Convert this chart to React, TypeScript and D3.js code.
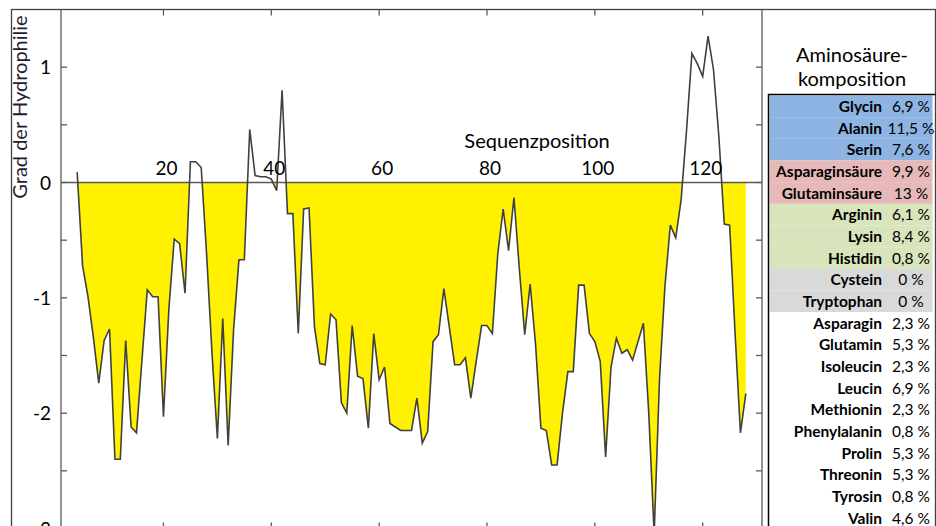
import { useEffect, useRef } from 'react';
import * as d3 from 'd3';

// Hydrophilicity profile (window 7), first value belongs to sequence position 4
const START_POS = 4;
const HYDROPHILIE = [
  0.09, -0.72, -0.99, -1.34, -1.74, -1.37, -1.27, -2.4, -2.4, -1.37,
  -2.12, -2.17, -1.55, -0.93, -0.99, -0.99, -2.03, -1.1, -0.49, -0.53,
  -0.96, 0.18, 0.18, 0.13, -0.62, -1.48, -2.22, -1.18, -2.28, -1.28,
  -0.67, -0.67, 0.46, 0.06, 0.05, 0.05, 0.03, -0.07, 0.8, -0.27,
  -0.27, -1.31, -0.23, -0.22, -1.25, -1.57, -1.58, -1.14, -1.19, -1.91,
  -2.0, -1.24, -1.68, -1.7, -2.13, -1.31, -1.71, -1.6, -2.09, -2.12,
  -2.15, -2.15, -2.15, -1.87, -2.26, -2.16, -1.38, -1.32, -0.92, -1.25,
  -1.58, -1.58, -1.52, -1.87, -1.55, -1.24, -1.24, -1.31, -0.62, -0.23,
  -0.59, -0.13, -0.75, -1.32, -0.88, -1.4, -2.13, -2.15, -2.45, -2.45,
  -2.0, -1.64, -1.64, -0.89, -0.89, -1.31, -1.38, -1.55, -2.38, -1.6,
  -1.35, -1.48, -1.45, -1.54, -1.38, -1.22, -2.0, -3.05, -1.7, -0.9,
  -0.37, -0.48, -0.15, 0.45, 1.12, 1.03, 0.92, 1.27, 0.98, 0.4,
  -0.36, -0.37, -1.3, -2.17, -1.83,
];

const X_TICKS = [20, 40, 60, 80, 100, 120];
const Y_LABELS = [1, 0, -1, -2, -3];
const Y_TICKS = [-2.5, -2, -1.5, -1, -0.5, 0, 0.5, 1];

const AMINO_NAMES = [
  'Glycin', 'Alanin', 'Serin', 'Asparaginsäure', 'Glutaminsäure',
  'Arginin', 'Lysin', 'Histidin', 'Cystein', 'Tryptophan',
  'Asparagin', 'Glutamin', 'Isoleucin', 'Leucin', 'Methionin',
  'Phenylalanin', 'Prolin', 'Threonin', 'Tyrosin', 'Valin',
];
const AMINO_PCT = [
  '6,9 %', '11,5 %', '7,6 %', '9,9 %', '13 %',
  '6,1 %', '8,4 %', '0,8 %', '0 %', '0 %',
  '2,3 %', '5,3 %', '2,3 %', '6,9 %', '2,3 %',
  '0,8 %', '5,3 %', '5,3 %', '0,8 %', '4,6 %',
];
const AMINO_GROUP = [
  'klein', 'klein', 'klein', 'sauer', 'sauer',
  'basisch', 'basisch', 'basisch', 'selten', 'selten',
  'sonst', 'sonst', 'sonst', 'sonst', 'sonst',
  'sonst', 'sonst', 'sonst', 'sonst', 'sonst',
];

const GROUP_FILL: Record<string, string> = {
  klein: '#8db4e2',
  sauer: '#e6b8b7',
  basisch: '#d8e4bc',
  selten: '#d9d9d9',
  sonst: '#ffffff',
};

const WIDTH = 936;
const HEIGHT = 526;
const PLOT = { left: 61, right: 762, top: 9.5, bottom: 528.5 };
const TABLE = { left: 768.5, right: 935.5, top: 94.5, row: 21.67 };

const FONT = 'Lato, "Open Sans", Arial, sans-serif';
const AXIS_COLOR = '#595959';
const LINE_COLOR = '#404040';
const FILL = '#fff100';

export default function App() {
  const svgRef = useRef<SVGSVGElement>(null);

  useEffect(() => {
    const svg = d3.select(svgRef.current);
    svg.selectAll('*').remove();
    svg.style('font-family', FONT);

    const data = HYDROPHILIE.map((v, i) => ({ pos: START_POS + i, v }));

    // Scales ---------------------------------------------------------------
    const x = d3.scaleLinear().domain([1, 131]).range([PLOT.left, PLOT.right]);
    const y = d3.scaleLinear().domain([-3, 1.5]).range([PLOT.bottom, PLOT.top]);

    const defs = svg.append('defs');
    defs
      .append('clipPath')
      .attr('id', 'plot-clip')
      .append('rect')
      .attr('x', PLOT.left)
      .attr('y', PLOT.top)
      .attr('width', PLOT.right - PLOT.left)
      .attr('height', PLOT.bottom - PLOT.top);
    // only the part below zero gets the yellow fill
    defs
      .append('clipPath')
      .attr('id', 'below-zero')
      .append('rect')
      .attr('x', PLOT.left)
      .attr('y', y(0))
      .attr('width', PLOT.right - PLOT.left)
      .attr('height', PLOT.bottom - y(0));

    svg.append('rect').attr('width', WIDTH).attr('height', HEIGHT).attr('fill', '#fff');

    // Area + line ----------------------------------------------------------
    const area = d3
      .area<{ pos: number; v: number }>()
      .x((d) => x(d.pos))
      .y0(y(0))
      .y1((d) => y(d.v));

    svg
      .append('path')
      .datum(data)
      .attr('clip-path', 'url(#below-zero)')
      .attr('fill', FILL)
      .attr('d', area);

    // zero line
    svg
      .append('line')
      .attr('x1', PLOT.left)
      .attr('x2', PLOT.right)
      .attr('y1', y(0))
      .attr('y2', y(0))
      .attr('stroke', AXIS_COLOR)
      .attr('stroke-width', 1.3);

    const line = d3
      .line<{ pos: number; v: number }>()
      .x((d) => x(d.pos))
      .y((d) => y(d.v));

    svg
      .append('path')
      .datum(data)
      .attr('clip-path', 'url(#plot-clip)')
      .attr('fill', 'none')
      .attr('stroke', LINE_COLOR)
      .attr('stroke-width', 1.6)
      .attr('d', line);

    // Frame + axes ---------------------------------------------------------
    svg
      .append('rect')
      .attr('x', 11.5)
      .attr('y', 9.5)
      .attr('width', 924)
      .attr('height', 540)
      .attr('fill', 'none')
      .attr('stroke', LINE_COLOR)
      .attr('stroke-width', 1.3);

    for (const px of [PLOT.left, PLOT.right]) {
      svg
        .append('line')
        .attr('x1', px)
        .attr('x2', px)
        .attr('y1', PLOT.top)
        .attr('y2', PLOT.bottom)
        .attr('stroke', AXIS_COLOR)
        .attr('stroke-width', 1.3);
    }

    // y ticks pointing inward on both sides
    const yTicks = svg.append('g').attr('stroke', AXIS_COLOR).attr('stroke-width', 1.3);
    yTicks
      .selectAll('line.l')
      .data(Y_TICKS)
      .join('line')
      .attr('class', 'l')
      .attr('x1', PLOT.left)
      .attr('x2', PLOT.left + 6)
      .attr('y1', (d) => y(d))
      .attr('y2', (d) => y(d));
    yTicks
      .selectAll('line.r')
      .data(Y_TICKS)
      .join('line')
      .attr('class', 'r')
      .attr('x1', PLOT.right)
      .attr('x2', PLOT.right - 6)
      .attr('y1', (d) => y(d))
      .attr('y2', (d) => y(d));

    // x ticks at top and bottom
    const xTicks = svg.append('g').attr('stroke', AXIS_COLOR).attr('stroke-width', 1.3);
    xTicks
      .selectAll('line.t')
      .data(X_TICKS)
      .join('line')
      .attr('class', 't')
      .attr('x1', (d) => x(d))
      .attr('x2', (d) => x(d))
      .attr('y1', PLOT.top)
      .attr('y2', PLOT.top + 6);
    xTicks
      .selectAll('line.b')
      .data(X_TICKS)
      .join('line')
      .attr('class', 'b')
      .attr('x1', (d) => x(d))
      .attr('x2', (d) => x(d))
      .attr('y1', PLOT.bottom)
      .attr('y2', PLOT.bottom - 6);

    // Labels ---------------------------------------------------------------
    svg
      .append('g')
      .selectAll('text')
      .data(X_TICKS)
      .join('text')
      .attr('x', (d) => x(d) + 3)
      .attr('y', y(0) - 8)
      .attr('text-anchor', 'middle')
      .style('font-size', '19px')
      .attr('fill', '#000')
      .text((d) => d);

    svg
      .append('g')
      .selectAll('text')
      .data(Y_LABELS)
      .join('text')
      .attr('x', 51)
      .attr('y', (d) => y(d) + 7)
      .attr('text-anchor', 'end')
      .style('font-size', '19px')
      .attr('fill', '#000')
      .text((d) => d);

    svg
      .append('text')
      .attr('x', 537)
      .attr('y', 148)
      .attr('text-anchor', 'middle')
      .style('font-size', '20px')
      .attr('fill', '#000')
      .text('Sequenzposition');

    svg
      .append('text')
      .attr('transform', 'translate(27,107) rotate(-90)')
      .attr('text-anchor', 'middle')
      .style('font-size', '20px')
      .attr('fill', '#1c1f2e')
      .text('Grad der Hydrophilie');

    // Amino acid table -----------------------------------------------------
    const rows = d3
      .scaleBand<string>()
      .domain(AMINO_NAMES)
      .range([TABLE.top + 1, TABLE.top + 1 + TABLE.row * AMINO_NAMES.length]);

    svg
      .append('text')
      .attr('x', 852)
      .attr('y', 62)
      .attr('text-anchor', 'middle')
      .style('font-size', '20px')
      .text('Aminosäure-');
    svg
      .append('text')
      .attr('x', 852)
      .attr('y', 86)
      .attr('text-anchor', 'middle')
      .style('font-size', '20px')
      .text('komposition');

    const table = svg.append('g');
    table
      .selectAll('rect')
      .data(AMINO_NAMES)
      .join('rect')
      .attr('x', TABLE.left + 1)
      .attr('y', (d) => rows(d)!)
      .attr('width', TABLE.right - TABLE.left - 4)
      .attr('height', rows.bandwidth())
      .attr('fill', (_, i) => GROUP_FILL[AMINO_GROUP[i]]);

    table
      .selectAll('text.name')
      .data(AMINO_NAMES)
      .join('text')
      .attr('class', 'name')
      .attr('x', 882)
      .attr('y', (d) => rows(d)! + rows.bandwidth() / 2 + 5.5)
      .attr('text-anchor', 'end')
      .style('font-size', '15.5px')
      .style('font-weight', 'bold')
      .text((d) => d);

    table
      .selectAll('text.pct')
      .data(AMINO_PCT)
      .join('text')
      .attr('class', 'pct')
      .attr('x', 911)
      .attr('y', (_, i) => rows(AMINO_NAMES[i])! + rows.bandwidth() / 2 + 5.5)
      .attr('text-anchor', 'middle')
      .style('font-size', '15.5px')
      .text((d) => d);

    table
      .append('path')
      .attr('d', `M${TABLE.left},${HEIGHT + 10}V${TABLE.top}H${TABLE.right}`)
      .attr('fill', 'none')
      .attr('stroke', '#000')
      .attr('stroke-width', 1.5);
  }, []);

  return (
    <svg
      ref={svgRef}
      width={WIDTH}
      height={HEIGHT}
      style={{ position: 'absolute', left: 0, top: 0, display: 'block' }}
    />
  );
}
